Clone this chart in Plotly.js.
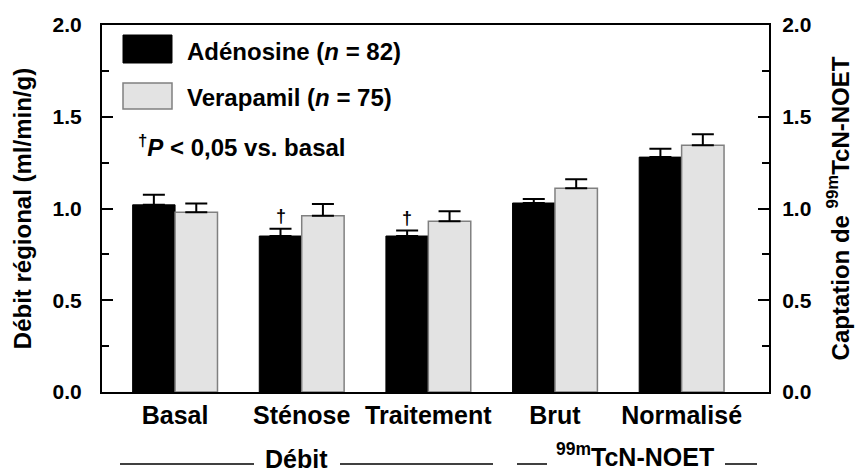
<!DOCTYPE html>
<html>
<head>
<meta charset="utf-8">
<script src="https://cdn.plot.ly/plotly-3.0.1.min.js"></script>
<style>html,body{margin:0;padding:0;background:#fff;}#chart{width:856px;height:472px;}</style>
</head>
<body>
<div id="chart"></div>
<script>
// ---- data ----
const categories = ['Basal', 'Sténose', 'Traitement', 'Brut', 'Normalisé'];
const adenosine = [1.02, 0.85, 0.85, 1.03, 1.28];
const adenosineErr = [0.055, 0.04, 0.03, 0.022, 0.045];
const verapamil = [0.98, 0.96, 0.93, 1.11, 1.345];
const verapamilErr = [0.047, 0.065, 0.055, 0.05, 0.06];
const significant = [false, true, true, false, false];
const yTicks = [0, 0.5, 1.0, 1.5, 2.0];
const seriesNames = ['Adénosine (<i>n</i> = 82)', 'Verapamil (<i>n</i> = 75)'];

const FONT = 'Liberation Sans, Arial, Helvetica, sans-serif';
const idx = categories.map((c, i) => i);
const BARGAP = 0.33;
const barW = (1 - BARGAP) / 2;

const traces = [
  {
    type: 'bar', x: idx, y: adenosine, name: seriesNames[0],
    marker: {color: '#000000', line: {color: '#000000', width: 1}},
    error_y: {type: 'data', symmetric: false, array: adenosineErr, arrayminus: adenosine.map(() => 0),
              color: '#000', thickness: 2, width: 11},
    showlegend: false, hoverinfo: 'none'
  },
  {
    type: 'bar', x: idx, y: verapamil, name: seriesNames[1],
    marker: {color: '#e3e3e3', line: {color: '#808080', width: 1.5}},
    error_y: {type: 'data', symmetric: false, array: verapamilErr, arrayminus: verapamil.map(() => 0),
              color: '#000', thickness: 2, width: 11},
    showlegend: false, hoverinfo: 'none'
  },
  {
    type: 'scatter', x: idx, y: verapamil, yaxis: 'y2', mode: 'none',
    showlegend: false, hoverinfo: 'none'
  }
];

const annotations = [];
significant.forEach((s, i) => {
  if (s) {
    annotations.push({
      x: i - barW / 2, y: adenosine[i] + adenosineErr[i], xref: 'x', yref: 'y',
      text: '†', showarrow: false, yanchor: 'bottom', yshift: 1,
      font: {family: FONT, size: 18, weight: 'bold', color: '#000'}
    });
  }
});

// legend text (custom legend)
const px = v => (v - 102) / 667;
const py = v => (392 - v) / 367;
const big = {family: FONT, size: 24, weight: 'bold', color: '#000'};
const bigger = {family: FONT, size: 25, weight: 'bold', color: '#000'};
annotations.push(
  {x: px(185), y: py(51), xref: 'paper', yref: 'paper', xanchor: 'left', yanchor: 'middle',
   text: seriesNames[0], showarrow: false, font: big},
  {x: px(185), y: py(97), xref: 'paper', yref: 'paper', xanchor: 'left', yanchor: 'middle',
   text: seriesNames[1], showarrow: false, font: big},
  {x: px(136), y: py(146), xref: 'paper', yref: 'paper', xanchor: 'left', yanchor: 'middle',
   text: '<sup>†</sup><i>P</i> &lt; 0,05 vs. basal', showarrow: false, font: big},
  {x: px(296), y: py(459), xref: 'paper', yref: 'paper', xanchor: 'center', yanchor: 'middle',
   text: 'Débit', showarrow: false, font: bigger},
  {x: px(635), y: py(455), xref: 'paper', yref: 'paper', xanchor: 'center', yanchor: 'middle',
   text: '<sup>99m</sup>TcN-NOET', showarrow: false, font: bigger}
);

const shapes = [
  {type: 'rect', xref: 'paper', yref: 'paper', x0: px(123), x1: px(172), y0: py(63), y1: py(35),
   fillcolor: '#000', line: {color: '#000', width: 1}},
  {type: 'rect', xref: 'paper', yref: 'paper', x0: px(123), x1: px(172), y0: py(109), y1: py(83),
   fillcolor: '#e3e3e3', line: {color: '#808080', width: 1.5}},
  {type: 'line', xref: 'paper', yref: 'paper', x0: px(120), x1: px(254), y0: py(464), y1: py(464), line: {color: '#000', width: 1.5}},
  {type: 'line', xref: 'paper', yref: 'paper', x0: px(340), x1: px(493), y0: py(464), y1: py(464), line: {color: '#000', width: 1.5}},
  {type: 'line', xref: 'paper', yref: 'paper', x0: px(517), x1: px(547), y0: py(464), y1: py(464), line: {color: '#000', width: 1.5}},
  {type: 'line', xref: 'paper', yref: 'paper', x0: px(725), x1: px(757), y0: py(464), y1: py(464), line: {color: '#000', width: 1.5}}
];

const yCommon = {
  range: [0, 2], tickvals: yTicks, ticktext: yTicks.map(v => v.toFixed(1)),
  ticks: 'inside', ticklen: 11, tickwidth: 2, tickcolor: '#000',
  minor: {dtick: 0.25, tick0: 0, ticks: 'inside', ticklen: 7, tickwidth: 2, tickcolor: '#000'},
  showline: true, linewidth: 2, linecolor: '#000', showgrid: false, zeroline: false,
  tickfont: {family: FONT, size: 21, weight: 'bold', color: '#000'}, fixedrange: true
};

const layout = {
  width: 856, height: 472,
  margin: {l: 102, r: 87, t: 25, b: 80},
  paper_bgcolor: '#fff', plot_bgcolor: '#fff',
  font: {family: FONT, weight: 'bold', color: '#000'},
  barmode: 'group', bargap: BARGAP, bargroupgap: 0,
  showlegend: false,
  xaxis: {
    range: [-0.577, 4.69], tickvals: idx, ticktext: categories, ticks: '',
    showline: true, mirror: true, linewidth: 2, linecolor: '#000', showgrid: false, zeroline: false,
    tickfont: bigger, fixedrange: true
  },
  yaxis: Object.assign({}, yCommon, {
    title: {text: 'Débit régional (ml/min/g)', font: {family: FONT, size: 24, weight: 'bold', color: '#000'}, standoff: 14},
    ticklabelstandoff: 14
  }),
  yaxis2: Object.assign({}, yCommon, {
    overlaying: 'y', side: 'right',
    title: {text: 'Captation de <sup>99m</sup>TcN-NOET', font: {family: FONT, size: 24, weight: 'bold', color: '#000'}, standoff: 21},
    ticklabelstandoff: 7
  }),
  annotations: annotations,
  shapes: shapes
};

Plotly.newPlot('chart', traces, layout, {displayModeBar: false, staticPlot: true});
</script>
</body>
</html>
